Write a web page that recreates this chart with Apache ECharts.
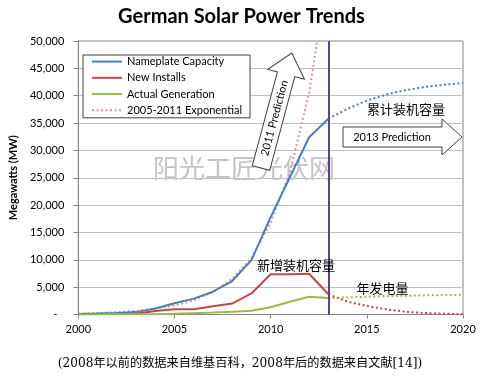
<!DOCTYPE html>
<html><head><meta charset="utf-8">
<script src="https://cdn.jsdelivr.net/npm/echarts@6/dist/echarts.min.js"></script>
<style>html,body{margin:0;padding:0;background:#fff}#c{width:483px;height:382px}</style>
</head><body><div id="c"></div>
<script>
// ---- data ----
const years = [2000,2001,2002,2003,2004,2005,2006,2007,2008,2009,2010,2011,2012,2013];
const nameplate = [114,176,296,435,1105,2056,2899,4170,6120,9950,17800,25100,32400,35800];
const newInstalls = [40,80,110,150,650,950,950,1500,2000,3850,7350,7350,7450,3700];
const generation = [10,20,30,40,60,140,250,350,500,700,1330,2340,3250,3000];
const forecastYears = [2013,2014,2015,2016,2017,2018,2019,2020];
const nameplateForecast = [35800,37600,39100,40200,41000,41600,42000,42300];
const newInstallsForecast = [3700,2340,1550,950,510,270,150,40];
const generationForecast = [3000,3130,3250,3350,3430,3500,3560,3600];
const expYears = [2000,2001,2002,2003,2004,2005,2006,2007,2008,2009,2010,2011,2012,2013];
const exponential = [170,265,420,660,1050,1650,2600,4100,6500,10300,16800,26000,40500,63000];
const yTicks = {min:0, max:50000, step:5000};
const xTicks = {min:2000, max:2020, step:5};
const divideYear = 2013;
const legendNames = ['Nameplate Capacity','New Installs','Actual Generation','2005-2011 Exponential'];
const titleText = 'German Solar Power Trends';
const yName = 'Megawatts (MW)';
const footnote = '(2008年以前的数据来自维基百科，2008年后的数据来自文献[14])';

const pair = (xs, ys) => xs.map((x,i)=>[x, ys[i]]);
const BLUE='#4a7ebb', RED='#be4b48', GREEN='#98b954', PINK='#d99694', PURPLE='#5b4290';
const F = 'Lato, "Noto Sans", sans-serif';
const CJK = '"Noto Sans CJK SC", sans-serif';

const chart = echarts.init(document.getElementById('c'), null, {renderer:'canvas'});
const deg = Math.PI/180;
chart.setOption({
  animation:false,
  backgroundColor:'#fff',
  title:{text:titleText,left:'center',top:2,textStyle:{fontFamily:F,fontSize:20,fontWeight:'bold',color:'#000'}},
  grid:{left:72,right:20,top:41,bottom:67.5,show:true,borderColor:'#868686',borderWidth:1,backgroundColor:'transparent'},
  legend:{
    data:legendNames, orient:'vertical', left:83, top:55,
    itemWidth:30, itemHeight:14, itemGap:5,
    padding:[1,8,2,8],
    itemStyle:{opacity:0},
    backgroundColor:'#fff', borderColor:'#404040', borderWidth:1, borderRadius:0,
    textStyle:{fontFamily:F,fontSize:11,color:'#000'}
  },
  xAxis:{type:'value',min:xTicks.min,max:xTicks.max,interval:xTicks.step,
    axisLine:{show:true,onZero:false,lineStyle:{color:'#868686'}},
    axisTick:{show:true,length:4,lineStyle:{color:'#868686'}},
    splitLine:{show:false},
    axisLabel:{margin:9,fontFamily:F,fontSize:11,color:'#000',formatter:v=>String(v)}
  },
  yAxis:{type:'value',min:yTicks.min,max:yTicks.max,interval:yTicks.step,
    name:yName,nameLocation:'middle',nameGap:52,nameRotate:90,
    nameTextStyle:{fontFamily:F,fontSize:11,fontWeight:'bold',color:'#000'},
    axisLine:{show:true,lineStyle:{color:'#868686'}},
    axisTick:{show:true,length:5,lineStyle:{color:'#868686'}},
    splitLine:{show:true,lineStyle:{color:'#bfbfbf',width:1}},
    axisLabel:{margin:14,fontFamily:F,fontSize:11,color:'#000',
      formatter:v=> v===0 ? '{z|-}' : v.toLocaleString('en-US'),
      rich:{z:{padding:[0,7,0,0],fontFamily:F,fontSize:11,color:'#000'}}}
  },
  series:[
    {name:legendNames[3],type:'line',symbol:'none',data:pair(expYears,exponential),
      lineStyle:{color:PINK,width:2,type:[2,2.5]},itemStyle:{color:PINK},z:2},
    {name:legendNames[0],type:'line',symbol:'none',data:pair(years,nameplate),
      lineStyle:{color:BLUE,width:2},itemStyle:{color:BLUE},z:3},
    {name:legendNames[1],type:'line',symbol:'none',data:pair(years,newInstalls),
      lineStyle:{color:RED,width:2},itemStyle:{color:RED},z:3},
    {name:legendNames[2],type:'line',symbol:'none',data:pair(years,generation),
      lineStyle:{color:GREEN,width:2},itemStyle:{color:GREEN},z:3,
      markLine:{silent:true,symbol:'none',label:{show:false},
        lineStyle:{color:PURPLE,width:2,type:'solid'},data:[{xAxis:divideYear}]}},
    {name:'Nameplate forecast',type:'line',symbol:'none',data:pair(forecastYears,nameplateForecast),
      lineStyle:{color:BLUE,width:2,type:[2,2.5]},z:3},
    {name:'New Installs forecast',type:'line',symbol:'none',data:pair(forecastYears,newInstallsForecast),
      lineStyle:{color:RED,width:2,type:[2,2.5]},z:3},
    {name:'Generation forecast',type:'line',symbol:'none',data:pair(forecastYears,generationForecast),
      lineStyle:{color:GREEN,width:2,type:[2,2.5]},z:3}
  ],
  graphic:[
    {type:'text',z:1,left:153,top:155,style:{text:'阳光工匠光伏网',font:'26px '+CJK,fill:'#c4c4c4'}},
    {type:'polygon',z:10,x:261,y:168,rotation:-15*deg,
      shape:{points:[[-9,0],[9,0],[9,-97],[19,-97],[0,-119],[-19,-97],[-9,-97]]},
      style:{fill:'#fff',stroke:'#404040',lineWidth:1}},
    {type:'text',z:11,x:274.5,y:118,rotation:75*deg,
      style:{text:'2011 Prediction',font:'11px '+F,fill:'#000',textAlign:'center',textVerticalAlign:'middle'}},
    {type:'polygon',z:10,
      shape:{points:[[343,127],[442,127],[442,119],[462,137],[442,155],[442,147],[343,147]]},
      style:{fill:'#fff',stroke:'#404040',lineWidth:1}},
    {type:'text',z:11,x:392,y:137,
      style:{text:'2013 Prediction',font:'11px '+F,fill:'#000',textAlign:'center',textVerticalAlign:'middle'}},
    {type:'text',z:11,x:406,y:109,style:{text:'累计装机容量',font:'13px '+CJK,fill:'#000',textAlign:'center',textVerticalAlign:'middle'}},
    {type:'text',z:11,x:296,y:265,style:{text:'新增装机容量',font:'13px '+CJK,fill:'#000',textAlign:'center',textVerticalAlign:'middle'}},
    {type:'text',z:11,x:382.5,y:288,style:{text:'年发电量',font:'13px '+CJK,fill:'#000',textAlign:'center',textVerticalAlign:'middle'}},
    {type:'text',z:11,x:240,y:364,style:{text:footnote,font:'12.2px "DejaVu Serif", "Noto Sans CJK SC", serif',fill:'#000',textAlign:'center',textVerticalAlign:'middle'}}
  ]
});
</script></body></html>
